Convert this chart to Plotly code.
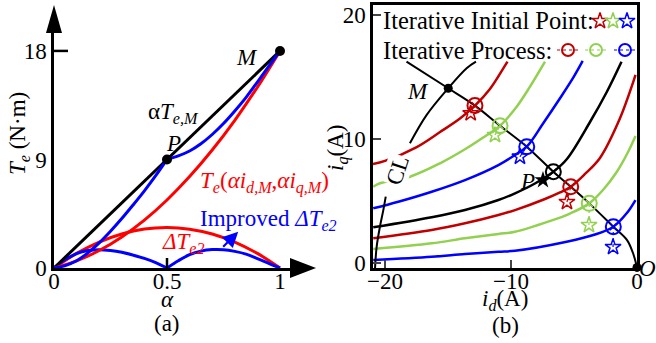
import plotly.graph_objects as go

W, H = 656, 343
FONT = "Liberation Serif"
RED_A, BLUE_A = "#ff0000", "#0000ff"
RED_B, GREEN_B, BLUE_B = "#c00000", "#92d050", "#0000ff"

# ---------------- panel (a): torque vs. scaling factor alpha ----------------
alpha_line = [0, 1]
te_line = [0, 18]                                   # alpha * Te,M
alpha_red = [0, .1, .2, .3, .4, .5, .6, .7, .8, .9, 1]
te_red = [0, 0.59, 1.45, 2.58, 3.97, 5.64, 7.58, 9.78, 12.25, 14.99, 18.0]
dte_red = [0, 1.21, 2.15, 2.82, 3.23, 3.36, 3.22, 2.82, 2.15, 1.21, 0]
alpha_b1 = [0, .05, .1, .15, .2, .25, .3, .35, .4, .45, .5]
te_b1 = [0, 0.2, 0.6, 1.25, 2.08, 3.05, 4.1, 5.23, 6.4, 7.65, 9.0]
dte_b1 = [0, 0.7, 1.2, 1.45, 1.52, 1.45, 1.3, 1.07, 0.8, 0.45, 0]
alpha_b2 = [.5, .55, .6, .65, .7, .75, .8, .85, .9, .95, 1]
te_b2 = [9.0, 9.3, 9.7, 10.3, 11.07, 11.98, 13.02, 14.15, 15.42, 16.72, 18.0]
dte_b2 = [0, 0.6, 1.1, 1.4, 1.53, 1.52, 1.38, 1.15, 0.78, 0.38, 0]
pm_alpha = [0.5, 1]          # P, M
pm_te = [9, 18]

# ---------------- panel (b): id-iq plane ----------------
# constant-torque curves (top to bottom)
r1_id = [-20.95, -20.0, -17.48, -15.63, -14.05, -12.86, -11.67, -10.61, -10.28]
r1_iq = [7.98, 8.23, 9.35, 10.56, 11.65, 12.69, 14.03, 15.69, 16.23]
g1_id = [-20.93, -20.4, -18.02, -15.63, -13.52, -12.2, -10.87, -9.55, -8.49, -7.3]
g1_iq = [6.15, 6.43, 6.96, 8.04, 9.25, 10.12, 11.07, 12.6, 14.22, 16.23]
b1_id = [-20.93, -18.94, -16.29, -13.65, -11.0, -9.68, -8.75, -7.44, -6.11, -5.06, -4.31]
b1_iq = [4.41, 4.94, 5.75, 6.69, 7.9, 8.71, 9.38, 11.27, 13.28, 14.94, 16.29]
k1_id = [-20.93, -16.29, -13.65, -11.0, -9.68, -8.1, -6.64, -5.56, -3.73, -2.4, -1.23]
k1_iq = [2.88, 3.69, 4.27, 5.08, 5.62, 6.41, 7.36, 8.39, 11.37, 13.79, 16.23]
r2_id = [-20.93, -16.29, -13.65, -11.0, -9.68, -7.3, -6.11, -5.26, -4.13, -2.94, -1.35, -0.29, -0.12]
r2_iq = [1.99, 2.66, 3.2, 3.87, 4.27, 5.16, 5.69, 6.15, 7.18, 8.47, 11.67, 14.62, 15.16]
g2_id = [-20.93, -16.29, -13.65, -11.0, -9.68, -6.9, -5.32, -3.79, -2.7, -1.61, -0.71, -0.12]
g2_iq = [1.13, 1.59, 1.99, 2.34, 2.52, 3.39, 3.99, 4.81, 5.89, 7.34, 8.95, 10.24]
b2_id = [-20.93, -16.29, -13.65, -11.0, -9.68, -5.58, -3.33, -1.88, -0.82, -0.12]
b2_iq = [0.24, 0.51, 0.73, 0.91, 0.99, 1.72, 2.3, 2.93, 4.01, 5.08]

# current-limit circle (CL), drawn in two pieces around its label
cl_lo_id = [-20.79, -20.66, -20.4, -20.13, -19.94]
cl_lo_iq = [-0.43, 1.31, 2.93, 4.27, 5.35]
cl_hi_id = [-18.02, -16.69, -14.98, -13.52, -12.78]
cl_hi_iq = [9.65, 11.94, 14.09, 15.7, 16.23]

# MTPA trajectory from the top edge through M down to O
mtpa_id = [-18.29, -14.98, -12.86, -10.87, -8.75, -6.64, -5.26, -3.79, -1.88, -0.79, -0.32, 0]
mtpa_iq = [16.23, 14.09, 12.69, 11.07, 9.38, 7.36, 6.15, 4.81, 2.93, 1.85, 0.81, -0.35]

# iteration: initial points (stars) and converged points (circles)
iter_colors = [RED_B, GREEN_B, BLUE_B, RED_B, GREEN_B, BLUE_B]
init_id = [-13.2, -11.27, -9.29, -5.56, -3.81, -1.9]
init_iq = [12.07, 10.32, 8.57, 4.92, 3.06, 1.29]
conv_id = [-12.86, -10.87, -8.75, -5.26, -3.79, -1.88]
conv_iq = [12.69, 11.07, 9.38, 6.15, 4.81, 2.93]
p_init = (-7.46, 6.69)
p_conv = (-6.64, 7.36)
m_pt = (-14.98, 14.09)
o_pt = (0, -0.35)

# ---------------- geometry ----------------
A_X0, A_X1 = 54, 290      # panel (a) plot area, pixels
A_Y0, A_Y1 = 33, 268
A_XR = [0, (A_X1 - A_X0) / 226]
A_YR = [0, (A_Y1 - A_Y0) / 12.06]
B_X0, B_X1 = 373, 637     # panel (b) plot area, pixels
B_Y0, B_Y1 = 5, 268
B_XR = [-20.95, 0]
B_YR = [-0.4, 20.8]


def pp(x, y):
    return x / W, 1 - y / H


def bdata(x, y):
    """pixel position -> panel (b) data coordinates"""
    return (B_XR[0] + (x - B_X0) / (B_X1 - B_X0) * (B_XR[1] - B_XR[0]),
            B_YR[1] - (y - B_Y0) / (B_Y1 - B_Y0) * (B_YR[1] - B_YR[0]))


fig = go.Figure()

# ---- panel (a) traces ----
def a_line(x, y, color):
    fig.add_trace(go.Scatter(x=x, y=y, mode="lines", line=dict(color=color, width=3, shape="spline"),
                             xaxis="x", yaxis="y", cliponaxis=False, showlegend=False))

a_line(alpha_red, dte_red, RED_A)
a_line(alpha_b1, dte_b1, BLUE_A)
a_line(alpha_b2, dte_b2, BLUE_A)
a_line(alpha_line, te_line, "black")
a_line(alpha_red, te_red, RED_A)
a_line(alpha_b1, te_b1, BLUE_A)
a_line(alpha_b2, te_b2, BLUE_A)
fig.add_trace(go.Scatter(x=pm_alpha, y=pm_te, mode="markers", marker=dict(color="black", size=10),
                         xaxis="x", yaxis="y", cliponaxis=False, showlegend=False))

# ---- panel (b) traces ----
def b_line(x, y, color, width=2.5):
    fig.add_trace(go.Scatter(x=x, y=y, mode="lines", line=dict(color=color, width=width, shape="spline"),
                             xaxis="x2", yaxis="y2", cliponaxis=False, showlegend=False))

for xs, ys, c in [(r1_id, r1_iq, RED_B), (g1_id, g1_iq, GREEN_B), (b1_id, b1_iq, BLUE_B),
                  (k1_id, k1_iq, "black"), (r2_id, r2_iq, RED_B), (g2_id, g2_iq, GREEN_B),
                  (b2_id, b2_iq, BLUE_B)]:
    b_line(xs, ys, c)
b_line(cl_lo_id, cl_lo_iq, "black", 2)
b_line(cl_hi_id, cl_hi_iq, "black", 2)
b_line(mtpa_id, mtpa_iq, "black", 2)

for i, c in enumerate(iter_colors):
    fig.add_trace(go.Scatter(x=[init_id[i], conv_id[i]], y=[init_iq[i], conv_iq[i]], mode="lines",
                             line=dict(color=c, width=1.2, dash="dot"), xaxis="x2", yaxis="y2",
                             showlegend=False))
    fig.add_trace(go.Scatter(x=[init_id[i]], y=[init_iq[i]], mode="markers",
                             marker=dict(symbol="star-open", size=12, color=c, line=dict(width=1.5)),
                             xaxis="x2", yaxis="y2", showlegend=False))
    fig.add_trace(go.Scatter(x=[conv_id[i]], y=[conv_iq[i]], mode="markers",
                             marker=dict(symbol="circle-open", size=15, color=c, line=dict(width=2)),
                             xaxis="x2", yaxis="y2", showlegend=False))
    fig.add_trace(go.Scatter(x=[conv_id[i]], y=[conv_iq[i]], mode="markers",
                             marker=dict(symbol="x-thin-open", size=7, color=c, line=dict(width=1.5)),
                             xaxis="x2", yaxis="y2", showlegend=False))

fig.add_trace(go.Scatter(x=[p_init[0]], y=[p_init[1]], mode="markers",
                         marker=dict(symbol="star", size=13, color="black"),
                         xaxis="x2", yaxis="y2", showlegend=False))
fig.add_trace(go.Scatter(x=[p_conv[0]], y=[p_conv[1]], mode="markers",
                         marker=dict(symbol="circle-open", size=15, color="black", line=dict(width=2)),
                         xaxis="x2", yaxis="y2", showlegend=False))
fig.add_trace(go.Scatter(x=[p_conv[0]], y=[p_conv[1]], mode="markers",
                         marker=dict(symbol="x-thin-open", size=7, color="black", line=dict(width=1.5)),
                         xaxis="x2", yaxis="y2", showlegend=False))
fig.add_trace(go.Scatter(x=[m_pt[0], o_pt[0]], y=[m_pt[1], o_pt[1]], mode="markers",
                         marker=dict(color="black", size=9), xaxis="x2", yaxis="y2",
                         cliponaxis=False, showlegend=False))

# ---- hand-drawn legend of panel (b) ----
LEG_STAR_X = [600, 613, 627]
LEG_STAR_Y = 21
LEG_CIRC_X = [568, 596, 625]
LEG_CIRC_Y = 50
LEG_COLORS = [RED_B, GREEN_B, BLUE_B]
for sx, cx, c in zip(LEG_STAR_X, LEG_CIRC_X, LEG_COLORS):
    x, y = bdata(sx, LEG_STAR_Y)
    fig.add_trace(go.Scatter(x=[x], y=[y], mode="markers",
                             marker=dict(symbol="star-open", size=12, color=c, line=dict(width=1.5)),
                             xaxis="x2", yaxis="y2", cliponaxis=False, showlegend=False))
    x0, y0 = bdata(cx - 11, LEG_CIRC_Y)
    x1, _ = bdata(cx + 11, LEG_CIRC_Y)
    xc, _ = bdata(cx, LEG_CIRC_Y)
    fig.add_trace(go.Scatter(x=[x0, x1], y=[y0, y0], mode="lines",
                             line=dict(color=c, width=1.2, dash="dot"),
                             xaxis="x2", yaxis="y2", cliponaxis=False, showlegend=False))
    fig.add_trace(go.Scatter(x=[xc], y=[y0], mode="markers",
                             marker=dict(symbol="circle-open", size=12, color=c, line=dict(width=2)),
                             xaxis="x2", yaxis="y2", cliponaxis=False, showlegend=False))

# ---- annotations ----
ann = []


def text(x, y, s, size=23, color="black", xanchor="center", angle=0, bg=None):
    px_, py_ = pp(x, y)
    d = dict(x=px_, y=py_, xref="paper", yref="paper", text=s, showarrow=False,
             font=dict(family=FONT, size=size, color=color), xanchor=xanchor, yanchor="middle",
             textangle=angle, borderpad=0)
    if bg:
        d["bgcolor"] = bg
    ann.append(d)


# panel (a)
text(19, 134, "<i>T<sub>e</sub></i> (N·m)", angle=-90)
text(167, 299, "<i>α</i>")
text(167, 323, "(a)")
text(173, 113, "α<i>T<sub>e,M</sub></i>")
text(173, 143, "<i>P</i>")
text(247, 57, "<i>M</i>")
text(199, 182, "<i>T<sub>e</sub></i>(<i>αi<sub>d,M</sub></i>,<i>αi<sub>q,M</sub></i>)", color=RED_A,
     xanchor="left")
text(199, 220, "Improved <i>ΔT<sub>e2</sub></i>", color=BLUE_A, xanchor="left")
text(183, 243, "<i>ΔT<sub>e2</sub></i>", color=RED_A)
ann.append(dict(x=0.815, y=3.01, ax=0.742, ay=1.63, xref="x", yref="y", axref="x", ayref="y",
                text="", showarrow=True, arrowhead=2, arrowsize=1.4, arrowwidth=2.2,
                arrowcolor=BLUE_A))

# panel (b)
text(337, 148, "<i>i<sub>q</sub></i>(A)", angle=-90)
text(505, 300, "<i>i<sub>d</sub></i>(A)")
text(505, 325, "(b)")
text(398, 171, "CL", angle=-72, bg="white")
text(418, 92, "<i>M</i>")
text(527, 181, "<i>P</i>")
text(647, 268, "<i>O</i>")
text(382, 21, "Iterative Initial Point:", size=24.5, xanchor="left")
text(382, 50, "Iterative Process:", size=24.5, xanchor="left")

# ---- axis arrows / extra ticks for panel (a) ----
def ppath(pts):
    s = "M " + " L ".join(f"{x / W:.5f},{1 - y / H:.5f}" for x, y in pts) + " Z"
    return s


shapes = [
    dict(type="path", xref="paper", yref="paper", path=ppath([(54, 5), (46, A_Y0), (62, A_Y0)]),
         fillcolor="black", line=dict(width=0)),
    dict(type="path", xref="paper", yref="paper", path=ppath([(316, 268), (A_X1, 258), (A_X1, 278)]),
         fillcolor="black", line=dict(width=0)),
    dict(type="line", xref="x", yref="y", x0=0, x1=14 / 226, y0=18, y1=18,
         line=dict(color="black", width=2.5)),
    dict(type="line", xref="x", yref="y", x0=0.5, x1=0.5, y0=0, y1=10 / 12.06,
         line=dict(color="black", width=2.5)),
]

tickfont = dict(family=FONT, size=23, color="black")
fig.update_layout(
    width=W, height=H, margin=dict(l=0, r=0, t=0, b=0, autoexpand=False),
    font=dict(family=FONT, size=23, color="black"),
    paper_bgcolor="white", plot_bgcolor="rgba(0,0,0,0)",
    xaxis=dict(domain=[A_X0 / W, A_X1 / W], range=A_XR, showline=True, linewidth=2.5,
               linecolor="black", showgrid=False, zeroline=False, tickvals=[0, 0.5, 1],
               ticktext=["0", "0.5", "1"], ticks="", tickfont=tickfont, anchor="y",
               automargin=False, ticklabelstandoff=-9),
    yaxis=dict(domain=[1 - A_Y1 / H, 1 - A_Y0 / H], range=A_YR, showline=True, linewidth=2.5,
               linecolor="black", showgrid=False, zeroline=False, tickvals=[0, 9, 18],
               ticks="", tickfont=tickfont, anchor="x", automargin=False),
    xaxis2=dict(domain=[B_X0 / W, B_X1 / W], range=B_XR, showline=True, mirror=True, linewidth=2.5,
                linecolor="black", showgrid=False, zeroline=False, tickvals=[-20, -10, 0],
                ticks="inside", ticklen=8, tickwidth=2, tickfont=tickfont, anchor="y2",
                automargin=False, ticklabelstandoff=-9),
    yaxis2=dict(domain=[1 - B_Y1 / H, 1 - B_Y0 / H], range=B_YR, showline=True, mirror=True,
                linewidth=2.5, linecolor="black", showgrid=False, zeroline=False,
                tickvals=[0, 10, 20], ticks="inside", ticklen=8, tickwidth=2, tickfont=tickfont,
                anchor="x2", automargin=False),
    annotations=ann, shapes=shapes,
)

fig.write_html("out.html")
